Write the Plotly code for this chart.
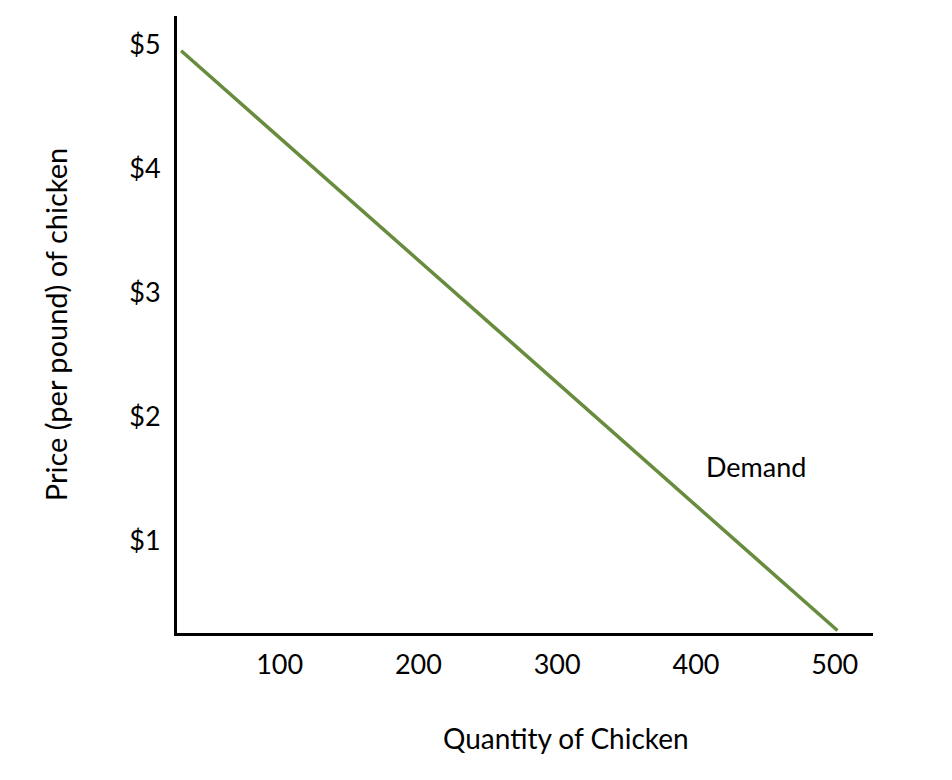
import plotly.graph_objects as go

quantity = [29, 502]
price = [4.95, 0.27]

x_tick_vals = [100, 200, 300, 400, 500]
x_tick_text = ["100", "200", "300", "400", "500"]
y_tick_vals = [1, 2, 3, 4, 5]
y_tick_text = ["$1", "$2", "$3", "$4", "$5"]

label_text = "Demand"
label_pos = (443, 1.59)

x_title = "Quantity of Chicken"
y_title = "Price (per pound) of chicken"

FONT = "Lato, Open Sans, sans-serif"

fig = go.Figure()
fig.add_trace(go.Scatter(
    x=quantity, y=price, mode="lines",
    line=dict(color="#678C3E", width=3.5),
    hoverinfo="skip", showlegend=False,
))
fig.add_annotation(x=label_pos[0], y=label_pos[1], text=label_text, showarrow=False,
                   font=dict(family=FONT, size=27, color="black"))
fig.add_annotation(xref="paper", yref="paper", x=0.559, y=-0.170, text=x_title,
                   showarrow=False, xanchor="center", yanchor="middle",
                   font=dict(family=FONT, size=28, color="black"))

fig.update_layout(
    width=952, height=780,
    margin=dict(l=169, r=87, t=8, b=155),
    paper_bgcolor="white", plot_bgcolor="white",
    font=dict(family=FONT, size=27, color="black"),
    xaxis=dict(
        range=[26, 527.6], tickvals=x_tick_vals, ticktext=x_tick_text,
        showgrid=False, zeroline=False, showline=True, linecolor="black", linewidth=3,
        ticks="", ticklabelstandoff=6,
    ),
    yaxis=dict(
        range=[0.25, 5.23], tickvals=y_tick_vals, ticktext=y_tick_text,
        showgrid=False, zeroline=False, showline=True, linecolor="black", linewidth=3,
        ticks="", ticklabelstandoff=8,
        title=dict(text=y_title, standoff=54, font=dict(size=29)),
    ),
)

fig.write_html("out.html")
